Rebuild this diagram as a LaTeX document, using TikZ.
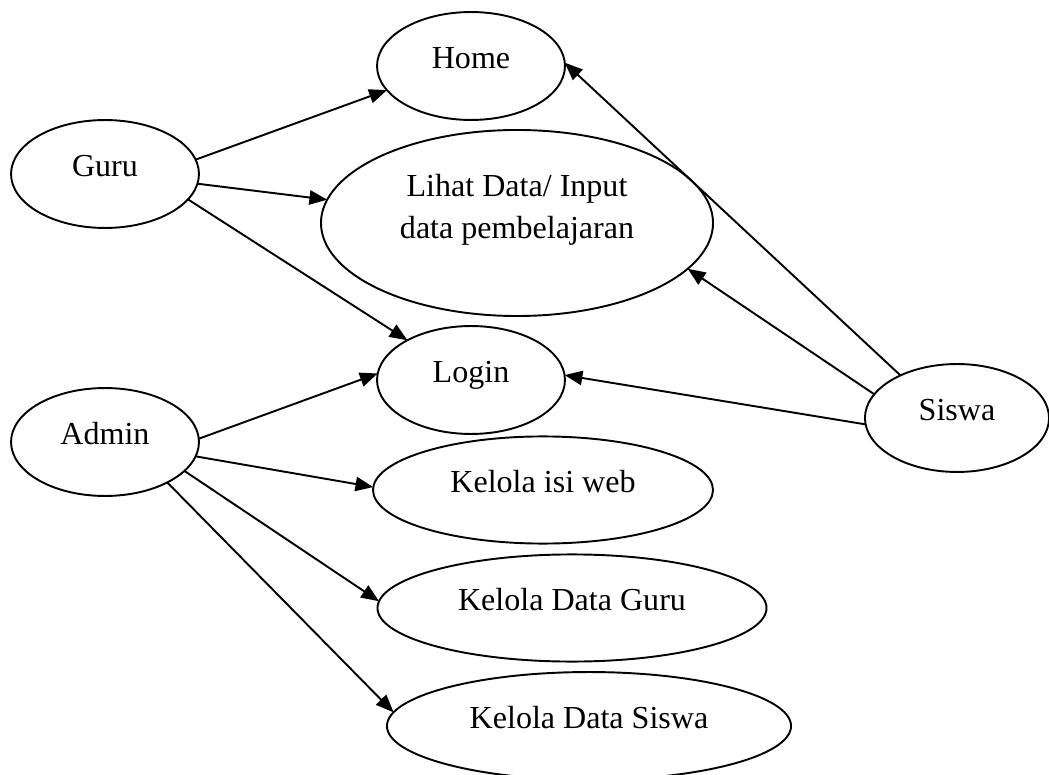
\documentclass[tikz,border=0pt]{standalone}
\usepackage{fontspec}
\setmainfont{Liberation Serif}
\usetikzlibrary{shapes.geometric,arrows.meta}

\begin{document}
\begin{tikzpicture}[x=0.365pt, y=-0.365pt,
	usecase/.style={draw, ellipse, line width=0.7pt, inner sep=0pt, outer sep=0pt,
		font=\fontsize{11.7}{15}\selectfont, text height=8pt, text depth=6.5pt},
	link/.style={line width=0.7pt, -{Triangle[length=6.5pt, width=5.2pt]}}]
			%%%%% START %%%%%
			
			\useasboundingbox (0, 0) rectangle (1049, 775);
			
			% aktor
			\node[usecase, minimum width=68.6pt, minimum height=39.4pt] (guru) at (105, 174) {Guru};
			\node[usecase, minimum width=68.6pt, minimum height=39.4pt] (admin) at (105, 442) {Admin};
			\node[usecase, minimum width=67.2pt, minimum height=39.4pt] (siswa) at (957, 418) {Siswa};
			
			% use case
			\node[usecase, minimum width=68.6pt, minimum height=39.4pt] (home) at (471, 66) {Home};
			\node[usecase, minimum width=143.1pt, minimum height=67.9pt, align=center, text height=19pt, text depth=8pt] (lihat) at (517, 223) {Lihat Data/ Input\\data pembelajaran};
			\node[usecase, minimum width=68.6pt, minimum height=39.4pt] (login) at (471, 380) {Login};
			\node[usecase, minimum width=124.1pt, minimum height=39.1pt] (isiweb) at (543, 490) {Kelola isi web};
			\node[usecase, minimum width=142pt, minimum height=39.1pt] (datguru) at (572, 608) {Kelola Data Guru};
			\node[usecase, minimum width=147.5pt, minimum height=39.4pt] (datsiswa) at (589, 726) {Kelola Data Siswa};
			
			\draw[link] (guru.9) -- (home.196);
			\draw[link] (guru.-6) -- (lihat.173);
			\draw[link] (guru.-17) -- (login.148);
			
			\draw[link] (admin.2) -- (login.176);
			\draw[link] (admin.-9) -- (isiweb.179);
			\draw[link] (admin.-20) -- (datguru.178);
			\draw[link] (admin.-33) -- (datsiswa.176);
			
			\draw[link] (siswa.143) -- (home.2);
			\draw[link] (siswa.164) -- (lihat.-15);
			\draw[link] (siswa.184) -- (login.3);
			
			%%%%% END %%%%%
\end{tikzpicture}
\end{document}
